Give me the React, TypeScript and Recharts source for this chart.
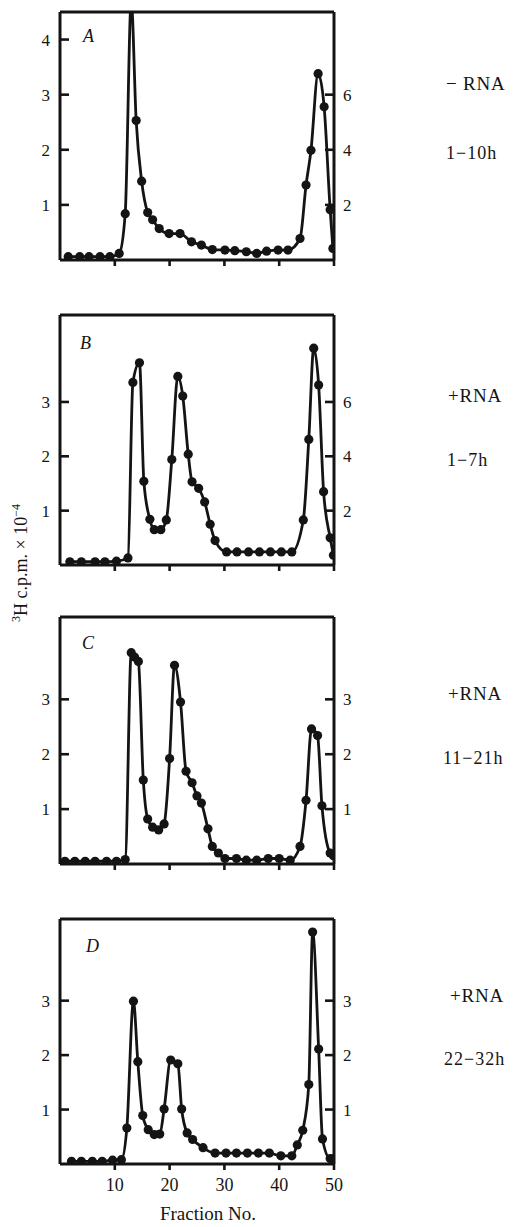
import React from 'react';
import { LineChart, Line, XAxis, YAxis, ReferenceLine } from 'recharts';

// ---- Panel A (-RNA, 1-10h) ----
const fracA = [1.5, 3.6, 5.3, 7.3, 9.1, 10.8, 11.9, 13.0, 13.9, 14.9, 16.0, 16.9, 18.1, 19.9, 21.9, 24.0, 25.8, 27.8, 30.1, 31.9, 34.0, 35.9, 37.7, 39.8, 41.6, 43.8, 44.9, 45.8, 47.1, 48.2, 49.3, 49.8];
const valA = [0.06, 0.06, 0.06, 0.06, 0.06, 0.12, 0.84, 4.7, 2.53, 1.43, 0.86, 0.73, 0.57, 0.48, 0.48, 0.33, 0.27, 0.19, 0.18, 0.17, 0.15, 0.12, 0.16, 0.18, 0.18, 0.39, 1.36, 1.99, 3.38, 2.78, 0.91, 0.21];

// ---- Panel B (+RNA, 1-7h) ----
const fracB = [1.8, 3.9, 6.4, 8.2, 10.3, 12.4, 13.3, 14.5, 15.3, 16.4, 17.2, 18.4, 19.4, 20.4, 21.5, 22.4, 23.4, 24.1, 25.3, 26.4, 27.4, 28.3, 30.4, 32.3, 34.4, 36.4, 38.4, 40.4, 42.3, 44.4, 45.4, 46.3, 47.2, 48.1, 49.3, 49.9];
const valB = [0.06, 0.06, 0.06, 0.06, 0.07, 0.13, 3.36, 3.72, 1.54, 0.84, 0.65, 0.65, 0.83, 1.94, 3.47, 3.11, 2.04, 1.53, 1.41, 1.16, 0.75, 0.45, 0.24, 0.24, 0.24, 0.24, 0.24, 0.24, 0.24, 0.83, 2.31, 3.99, 3.31, 1.35, 0.5, 0.18];

// ---- Panel C (+RNA, 11-21h) ----
const fracC = [0.9, 2.7, 4.6, 6.4, 8.5, 10.3, 11.9, 13.0, 13.6, 14.3, 15.2, 16.0, 16.9, 18.0, 19.0, 20.0, 20.9, 22.0, 23.0, 24.1, 25.0, 25.8, 27.0, 27.8, 28.9, 30.1, 32.2, 34.0, 35.9, 38.0, 40.0, 42.0, 43.8, 44.9, 45.9, 47.0, 47.8, 49.3, 49.9];
const valC = [0.05, 0.05, 0.05, 0.05, 0.05, 0.05, 0.08, 3.85, 3.77, 3.69, 1.53, 0.82, 0.67, 0.62, 0.73, 1.92, 3.62, 2.95, 1.69, 1.48, 1.24, 1.11, 0.64, 0.32, 0.2, 0.1, 0.1, 0.07, 0.07, 0.1, 0.1, 0.07, 0.32, 1.16, 2.46, 2.34, 1.06, 0.2, 0.15];

// ---- Panel D (+RNA, 22-32h) ----
const fracD = [2.1, 3.9, 5.9, 7.7, 9.6, 11.2, 12.2, 13.4, 14.2, 15.1, 16.1, 17.2, 18.2, 19.0, 20.2, 21.5, 22.2, 23.2, 24.2, 26.1, 28.3, 30.3, 32.2, 34.2, 36.2, 38.2, 40.3, 42.3, 43.3, 44.3, 45.4, 46.1, 47.2, 47.9, 49.3, 49.9];
const valD = [0.05, 0.05, 0.05, 0.05, 0.07, 0.08, 0.66, 2.99, 1.88, 0.89, 0.63, 0.54, 0.55, 1.01, 1.91, 1.84, 1.01, 0.57, 0.45, 0.3, 0.2, 0.2, 0.2, 0.2, 0.2, 0.2, 0.15, 0.15, 0.35, 0.62, 1.46, 4.26, 2.11, 0.46, 0.1, 0.1];

// ---- Axis ticks / labels ----
const xTicks = [10, 20, 30, 40, 50];
const leftTicksA = [1, 2, 3, 4];
const leftTicksBCD = [1, 2, 3];
const rightTicksAB = [2, 4, 6];
const rightTicksCD = [1, 2, 3];
const panelLetters = ['A', 'B', 'C', 'D'];
const conditionLabels = ['\u2212 RNA', '+RNA', '+RNA', '+RNA'];
const timeLabels = ['1\u221210h', '1\u22127h', '11\u221221h', '22\u221232h'];

const FONT = '"Liberation Serif", "DejaVu Serif", serif';
const INK = '#141414';

const LeftTick = (props: any) => {
  const { x, y, payload } = props;
  return (
    <g>
      <line x1={x} x2={x + 9} y1={y} y2={y} stroke={INK} strokeWidth={2.6} />
      <text x={x - 10} y={y} dy="0.36em" textAnchor="end" fontSize={17} fontFamily={FONT} fill={INK}>
        {payload.value}
      </text>
    </g>
  );
};

const RightTick = (props: any) => {
  const { x, y, payload } = props;
  return (
    <g>
      <line x1={x - 9} x2={x} y1={y} y2={y} stroke={INK} strokeWidth={2.6} />
      <text x={x + 9} y={y} dy="0.36em" textAnchor="start" fontSize={17} fontFamily={FONT} fill={INK}>
        {payload.value}
      </text>
    </g>
  );
};

const makeBottomTick = (showLabels: boolean) => (props: any) => {
  const { x, y, payload } = props;
  return (
    <g>
      <line x1={x} x2={x} y1={y} y2={y + 6} stroke={INK} strokeWidth={2.6} />
      {showLabels ? (
        <text x={x} y={y + 21} dy="0.36em" textAnchor="middle" fontSize={18} fontFamily={FONT} fill={INK}>
          {payload.value}
        </text>
      ) : null}
    </g>
  );
};

type PanelProps = {
  frac: number[];
  vals: number[];
  plotTop: number;
  plotBottom: number;
  yMax: number;
  rightScale: number;
  leftTicks: number[];
  rightTicks: number[];
  showXLabels: boolean;
};

const Panel = ({ frac, vals, plotTop, plotBottom, yMax, rightScale, leftTicks, rightTicks, showXLabels }: PanelProps) => {
  const data = frac.map((f, i) => ({ x: f, y: vals[i] }));
  const mTop = 10;
  const xAxisH = 40;
  const height = mTop + (plotBottom - plotTop) + xAxisH;
  return (
    <div style={{ position: 'absolute', left: 0, top: plotTop - mTop }}>
      <LineChart width={380} height={height} data={data} margin={{ top: mTop, right: 0, bottom: 0, left: 0 }}>
        <XAxis
          dataKey="x"
          type="number"
          domain={[0, 50]}
          ticks={xTicks}
          allowDataOverflow
          height={xAxisH}
          axisLine={{ stroke: INK, strokeWidth: 3 }}
          tickLine={false}
          tickSize={0}
          tickMargin={0}
          tick={makeBottomTick(showXLabels)}
          interval={0}
        />
        <YAxis
          yAxisId="left"
          type="number"
          domain={[0, yMax]}
          ticks={leftTicks}
          allowDataOverflow
          width={60}
          axisLine={{ stroke: INK, strokeWidth: 3 }}
          tickLine={false}
          tickSize={0}
          tickMargin={0}
          tick={<LeftTick />}
          interval={0}
        />
        <YAxis
          yAxisId="right"
          orientation="right"
          type="number"
          domain={[0, yMax * rightScale]}
          ticks={rightTicks}
          allowDataOverflow
          width={46}
          axisLine={{ stroke: INK, strokeWidth: 3 }}
          tickLine={false}
          tickSize={0}
          tickMargin={0}
          tick={<RightTick />}
          interval={0}
        />
        <ReferenceLine yAxisId="left" y={yMax} stroke={INK} strokeWidth={3} ifOverflow="extendDomain" />
        <Line
          yAxisId="left"
          dataKey="y"
          type="monotone"
          stroke={INK}
          strokeWidth={2.8}
          dot={{ r: 4.6, fill: INK, stroke: INK, strokeWidth: 0 }}
          isAnimationActive={false}
        />
      </LineChart>
    </div>
  );
};

export default function App() {
  const panels = [
    { frac: fracA, vals: valA, plotTop: 12, plotBottom: 260, yMax: 4.5, rightScale: 2, leftTicks: leftTicksA, rightTicks: rightTicksAB },
    { frac: fracB, vals: valB, plotTop: 315, plotBottom: 565, yMax: 4.6, rightScale: 2, leftTicks: leftTicksBCD, rightTicks: rightTicksAB },
    { frac: fracC, vals: valC, plotTop: 617, plotBottom: 864, yMax: 4.5, rightScale: 1, leftTicks: leftTicksBCD, rightTicks: rightTicksCD },
    { frac: fracD, vals: valD, plotTop: 919, plotBottom: 1164, yMax: 4.5, rightScale: 1, leftTicks: leftTicksBCD, rightTicks: rightTicksCD },
  ];
  const letterPos = [[83, 36], [80, 343], [82, 643], [86, 946]];
  const condPos = [[446, 83], [448, 395], [448, 693], [450, 995]];
  const timePos = [[446, 153], [447, 460], [443, 758], [444, 1059]];
  return (
    <div style={{ position: 'absolute', left: 0, top: 0, width: 513, height: 1227, background: '#fff', fontFamily: FONT }}>
      {panels.map((p, i) => (
        <Panel key={i} {...p} showXLabels={i === 3} />
      ))}
      <svg width={513} height={1227} style={{ position: 'absolute', left: 0, top: 0, pointerEvents: 'none' }}>
        {panelLetters.map((l, i) => (
          <text key={'l' + i} x={letterPos[i][0]} y={letterPos[i][1]} dy="0.36em" fontSize={18} fontStyle="italic" fontFamily={FONT} fill={INK}>
            {l}
          </text>
        ))}
        {conditionLabels.map((l, i) => (
          <text key={'c' + i} x={condPos[i][0]} y={condPos[i][1]} dy="0.36em" fontSize={19} fontFamily={FONT} fill={INK} letterSpacing={0.8}>
            {l}
          </text>
        ))}
        {timeLabels.map((l, i) => (
          <text key={'t' + i} x={timePos[i][0]} y={timePos[i][1]} dy="0.36em" fontSize={18} fontFamily={FONT} fill={INK} letterSpacing={1}>
            {l}
          </text>
        ))}
        <text x={208} y={1213} dy="0.36em" textAnchor="middle" fontSize={19} fontFamily={FONT} fill={INK}>
          Fraction No.
        </text>
        <text transform="translate(27,563) rotate(-90)" textAnchor="middle" fontSize={18} fontFamily={FONT} fill={INK}>
          <tspan fontSize={12} dy="-7">3</tspan>
          <tspan dy="7">H c.p.m. × 10</tspan>
          <tspan fontSize={12} dy="-7">−4</tspan>
        </text>
      </svg>
    </div>
  );
}
